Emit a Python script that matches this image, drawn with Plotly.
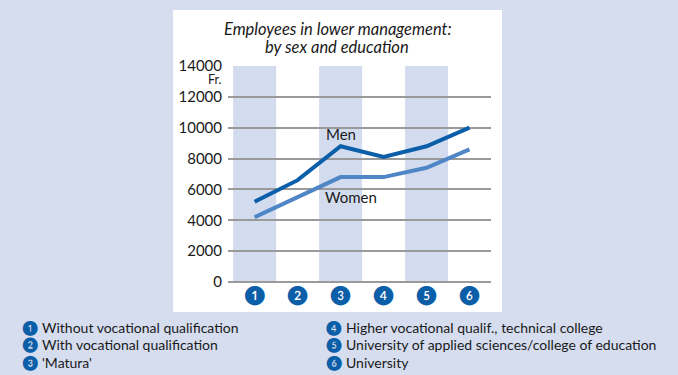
import plotly.graph_objects as go

categories = [1, 2, 3, 4, 5, 6]
tick_labels = ["❶", "❷", "❸", "❹", "❺", "❻"]
men = [5200, 6600, 8800, 8100, 8800, 10000]
women = [4200, 5500, 6800, 6800, 7400, 8600]
legend_items = [
    "Without vocational qualification",
    "With vocational qualification",
    "'Matura'",
    "Higher vocational qualif., technical college",
    "University of applied sciences/college of education",
    "University",
]
y_ticks = [0, 2000, 4000, 6000, 8000, 10000, 12000, 14000]

W, H = 678, 375
L, R, T, B = 228, 491, 66, 282
PW, PH = R - L, B - T
BG = "#d5ddef"
BAND = "#d3dcee"
DARK = "#0b5ea8"
LIGHT = "#4f86c6"
FONT = "Lato, 'DejaVu Sans', sans-serif"


def px(x):
    return (x - L) / PW


def py(y):
    return (B - y) / PH


fig = go.Figure()
fig.add_trace(go.Scatter(x=categories, y=women, mode="lines",
                         line=dict(color=LIGHT, width=4), hoverinfo="skip"))
fig.add_trace(go.Scatter(x=categories, y=men, mode="lines",
                         line=dict(color=DARK, width=4), hoverinfo="skip"))

shapes = []
shapes.append(dict(type="rect", xref="paper", yref="paper", layer="below",
                   x0=px(173), x1=px(502), y0=py(312), y1=py(10),
                   fillcolor="white", line=dict(width=0)))
for c in categories:
    if c % 2 == 1:
        shapes.append(dict(type="rect", xref="x", yref="y", layer="below",
                           x0=max(c - 0.5, 0.38), x1=c + 0.5, y0=0, y1=14000,
                           fillcolor=BAND, line=dict(width=0)))
fig.update_layout(shapes=shapes)

ann = []
ann.append(dict(xref="paper", yref="paper", x=px(337), y=py(29),
                text="<i>Employees in lower management:</i>",
                showarrow=False, font=dict(family=FONT, size=16.5, color="#1a1a1a"),
                xanchor="center", yanchor="middle"))
ann.append(dict(xref="paper", yref="paper", x=px(337), y=py(47),
                text="<i>by sex and education</i>",
                showarrow=False, font=dict(family=FONT, size=16.5, color="#1a1a1a"),
                xanchor="center", yanchor="middle"))
ann.append(dict(xref="paper", yref="paper", x=px(224), y=py(80),
                text="Fr.", showarrow=False, xanchor="right", yanchor="middle",
                font=dict(family=FONT, size=12.5, color="#1a1a1a")))
ann.append(dict(xref="x", yref="y", x=3, y=9600, text="Men", showarrow=False,
                xanchor="center", yanchor="middle",
                font=dict(family=FONT, size=15, color="#1a1a1a")))
ann.append(dict(xref="x", yref="y", x=3.25, y=5500, text="Women", showarrow=False,
                xanchor="center", yanchor="middle",
                font=dict(family=FONT, size=15, color="#1a1a1a")))
for i, (lab, txt) in enumerate(zip(tick_labels, legend_items)):
    col = i // 3
    row = i % 3
    xc = 30 if col == 0 else 334
    yc = 327 + row * 17.5
    ann.append(dict(xref="paper", yref="paper", x=px(xc), y=py(yc),
                    text=lab, showarrow=False, xanchor="center", yanchor="middle",
                    font=dict(family=FONT, size=14.5, color=DARK)))
    ann.append(dict(xref="paper", yref="paper", x=px(xc + 10), y=py(yc),
                    text=txt, showarrow=False, xanchor="left", yanchor="middle",
                    font=dict(family=FONT, size=14, color="#1a1a1a")))
fig.update_layout(annotations=ann)

fig.update_layout(
    width=W, height=H,
    margin=dict(l=L, r=W - R, t=T, b=H - B, autoexpand=False),
    paper_bgcolor=BG, plot_bgcolor="white",
    showlegend=False,
    xaxis=dict(range=[0.38, 6.5], tickmode="array", tickvals=categories,
               ticktext=tick_labels, showgrid=False, zeroline=False,
               showline=False, ticks="", fixedrange=True,
               tickfont=dict(family=FONT, size=19, color=DARK)),
    yaxis=dict(range=[0, 14000], tickmode="array", tickvals=y_ticks,
               ticktext=[str(v) for v in y_ticks], showgrid=True,
               gridcolor="#9a9a9a", gridwidth=1.5, zeroline=True,
               zerolinecolor="#9a9a9a", zerolinewidth=1.5, ticks="",
               ticklabelstandoff=5, fixedrange=True,
               tickfont=dict(family=FONT, size=15, color="#1a1a1a")),
)

fig.write_html("out.html", config={"displayModeBar": False},
               post_script="document.body.style.margin='0';document.body.style.overflow='hidden';")
